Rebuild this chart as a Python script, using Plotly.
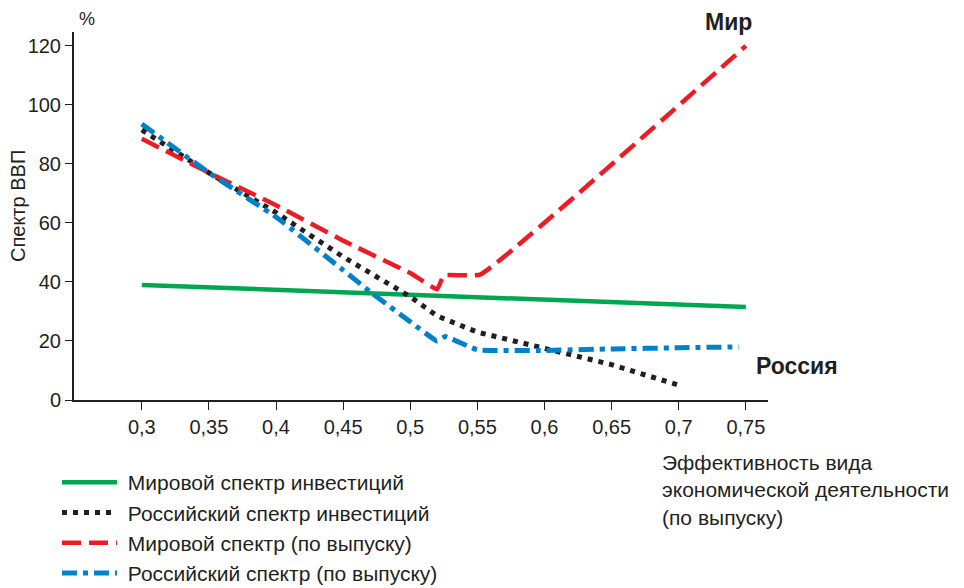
import plotly.graph_objects as go

# Data
x_green = [0.3, 0.75]
y_green = [39, 31.5]

x_black = [0.3, 0.35, 0.4, 0.45, 0.5, 0.52, 0.55, 0.6, 0.65, 0.7]
y_black = [91.5, 77, 63.5, 48.5, 35, 28.5, 23, 17.5, 12, 5]

x_red = [0.3, 0.35, 0.4, 0.45, 0.5, 0.52, 0.525, 0.552, 0.75]
y_red = [88.5, 77, 66, 54, 43, 37.5, 42.2, 42.5, 120]

x_blue = [0.3, 0.35, 0.4, 0.45, 0.472, 0.5, 0.52, 0.526, 0.55, 0.6, 0.65, 0.7, 0.745]
y_blue = [93.5, 77, 62, 44, 36, 26.5, 20, 21.5, 17, 16.8, 17.3, 17.7, 18]

names = ["Мировой спектр инвестиций", "Российский спектр инвестиций",
         "Мировой спектр (по выпуску)", "Российский спектр (по выпуску)"]

x_ticks = [0.3, 0.35, 0.4, 0.45, 0.5, 0.55, 0.6, 0.65, 0.7, 0.75]
x_tick_text = ["0,3", "0,35", "0,4", "0,45", "0,5", "0,55", "0,6", "0,65", "0,7", "0,75"]
y_ticks = [0, 20, 40, 60, 80, 100, 120]

FONT = "Liberation Sans, Arial, sans-serif"
TXT = "#231f20"
OFF = 8  # page body margin
# desired plot area in screenshot pixels: x 74..768, y 32..400
L, T = 74 - OFF, 32 - OFF
PW, PH = 694, 368
R = 964 - L - PW
B = 588 - T - PH


def px(xs):
    return (xs - OFF - L) / PW


def py(ys):
    return (T + PH - (ys - OFF)) / PH


pad = "\u00a0"
fig = go.Figure()
fig.add_trace(go.Scatter(x=x_green, y=y_green, mode="lines", name=pad + names[0], legendgroup="a",
                         line=dict(color="#00a650", width=4.5)))
fig.add_trace(go.Scatter(x=x_black, y=y_black, mode="lines", name=pad + names[1], legendgroup="b",
                         line=dict(color="#231f20", width=5, dash="5px,6px")))
fig.add_trace(go.Scatter(x=x_red, y=y_red, mode="lines", name=pad + names[2], legendgroup="c",
                         line=dict(color="#ed1c24", width=4.5, dash="19px,8px", shape="spline", smoothing=0.3)))
fig.add_trace(go.Scatter(x=x_blue, y=y_blue, mode="lines", name=pad + names[3], legendgroup="d",
                         line=dict(color="#0081c9", width=5, dash="15px,6px,5px,6px", shape="spline", smoothing=0.3)))

fig.update_layout(
    width=964, height=588,
    margin=dict(l=L, r=R, t=T, b=B, autoexpand=False),
    paper_bgcolor="white", plot_bgcolor="white",
    font=dict(family=FONT, size=20, color=TXT),
    showlegend=True,
    legend=dict(x=px(57), y=py(462), xanchor="left", yanchor="top",
                font=dict(size=21, color=TXT), tracegroupgap=0, itemwidth=55,
                bgcolor="rgba(0,0,0,0)"),
    xaxis=dict(range=[0.2495, 0.7665], tickvals=x_ticks, ticktext=x_tick_text,
               showgrid=False, zeroline=False, showline=True, linecolor=TXT, linewidth=2,
               ticks="outside", ticklen=8, tickwidth=1, tickcolor=TXT,
               tickfont=dict(size=20, color=TXT)),
    yaxis=dict(range=[0, 124.7], tickvals=y_ticks,
               showgrid=False, zeroline=False, showline=True, linecolor=TXT, linewidth=2,
               ticks="outside", ticklen=7, tickwidth=1, tickcolor=TXT,
               tickfont=dict(size=20, color=TXT)),
    annotations=[
        dict(text="Спектр ВВП", x=px(18), y=py(206), xref="paper", yref="paper",
             xanchor="center", yanchor="middle", textangle=-90,
             showarrow=False, font=dict(size=20, color=TXT)),
        dict(text="%", x=px(87), y=py(19), xref="paper", yref="paper", xanchor="center", yanchor="middle",
             showarrow=False, font=dict(size=18, color=TXT)),
        dict(text="<b>Мир</b>", x=px(728), y=py(22), xref="paper", yref="paper",
             xanchor="center", yanchor="middle",
             showarrow=False, font=dict(size=23, color=TXT)),
        dict(text="<b>Россия</b>", x=px(754), y=py(366), xref="paper", yref="paper",
             xanchor="left", yanchor="middle",
             showarrow=False, font=dict(size=23, color=TXT)),
        dict(text="Эффективность вида<br>экономической деятельности<br>(по выпуску)",
             x=px(660), y=py(449), xref="paper", yref="paper", xanchor="left", yanchor="top", align="left",
             showarrow=False, font=dict(size=21, color=TXT)),
    ],
)

fig.write_html("out.html")
